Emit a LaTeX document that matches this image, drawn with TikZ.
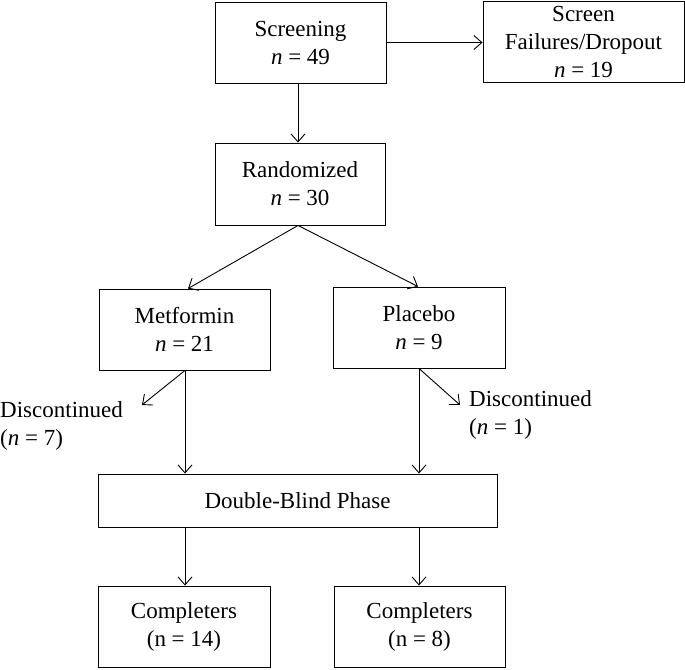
\documentclass[tikz,border=0pt]{standalone}
\usepackage{fontspec}
\setmainfont{Liberation Serif}
\usetikzlibrary{arrows.meta}
\begin{document}
\begin{tikzpicture}[x=1pt,y=-1pt,
  box/.style={draw, line width=0.9pt, inner sep=0pt, align=center, font=\fontsize{23}{28}\selectfont},
  lbl/.style={inner sep=0pt, align=left, anchor=west, font=\fontsize{23}{28}\selectfont},
  arr/.style={line width=0.9pt, -{Straight Barb[length=8pt,width=14pt,line width=0.9pt]}}]
\useasboundingbox (0,0) rectangle (685,669);
\node[box, minimum width=171pt, minimum height=81pt] (scr) at (300.5,42.5) {Screening\\\textit{n} = 49};
\node[box, minimum width=201pt, minimum height=81pt] (fail) at (583.5,41.5) {Screen\\Failures/Dropout\\\textit{n} = 19};
\node[box, minimum width=170pt, minimum height=82pt] (rand) at (300,184) {Randomized\\\textit{n} = 30};
\node[box, minimum width=171pt, minimum height=81pt] (met) at (184.5,329.5) {Metformin\\\textit{n} = 21};
\node[box, minimum width=172pt, minimum height=81pt] (pla) at (419,327.5) {Placebo\\\textit{n} = 9};
\node[box, minimum width=399pt, minimum height=53pt] (dbp) at (297.5,500.5) {Double-Blind Phase};
\node[box, minimum width=172pt, minimum height=81pt] (c1) at (184,626.5) {Completers\\(n = 14)};
\node[box, minimum width=171pt, minimum height=81pt] (c2) at (419.5,626.5) {Completers\\(n = 8)};
\node[lbl] (d1) at (0,426) {Discontinued\\(\textit{n} = 7)};
\node[lbl] (d2) at (469,415) {Discontinued\\(\textit{n} = 1)};
\coordinate (d1p) at (142,405);
\coordinate (d2p) at (460,405);
\draw[arr] (scr.east) -- (fail.west |- scr.east);
\draw[arr] (scr.south -| 298,0) -- (rand.north -| 298,0);
\draw[arr] (rand.south -| 298,0) -- (met.north -| 188,0);
\draw[arr] (rand.south -| 298,0) -- (pla.north -| 418,0);
\draw[arr] (met.south -| 185,0) -- (dbp.north -| 185,0);
\draw[arr] (pla.south -| 419,0) -- (dbp.north -| 419,0);
\draw[arr] (met.south -| 185,0) -- (d1p);
\draw[arr] (pla.south -| 419,0) -- (d2p);
\draw[arr] (dbp.south -| 185,0) -- (c1.north -| 185,0);
\draw[arr] (dbp.south -| 419,0) -- (c2.north -| 419,0);
\end{tikzpicture}
\end{document}
